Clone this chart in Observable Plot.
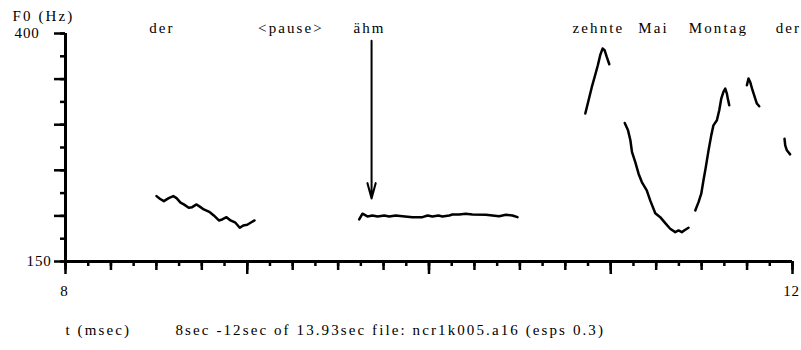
<!DOCTYPE html>
<html><head><meta charset="utf-8">
<script src="https://cdn.jsdelivr.net/npm/d3@7"></script>
<script src="https://cdn.jsdelivr.net/npm/@observablehq/plot@0.6"></script>
<style>
body{margin:0;background:#fff}
svg text { font-family: "Liberation Serif", serif; font-size: 15px; letter-spacing: 2.1px; }
svg g[aria-label="x-axis tick label"] text, svg g[aria-label="y-axis tick label"] text { letter-spacing: 0.8px; }
</style>
</head><body><div id="chart"></div>
<script>
// F0 contour segments: [time (s), F0 (Hz)]
const contour1 = [[8.501,221.7],[8.519,218.8],[8.541,216.2],[8.568,219.5],[8.593,221.7],[8.611,219.5],[8.633,214.5],[8.651,212.6],[8.678,209.0],[8.697,209.6],[8.721,212.6],[8.743,209.6],[8.761,207.1],[8.794,204.1],[8.816,200.5],[8.844,195.0],[8.862,196.1],[8.886,198.6],[8.908,195.0],[8.935,192.5],[8.959,187.0],[8.978,189.5],[9.000,190.3],[9.018,192.5],[9.040,195.0]];
const contour2 = [[9.616,196.1],[9.634,202.4],[9.661,199.4],[9.689,200.5],[9.717,199.4],[9.754,200.5],[9.781,199.4],[9.817,200.5],[9.854,199.7],[9.909,198.6],[9.964,198.6],[9.992,200.5],[10.019,199.4],[10.052,200.5],[10.074,199.4],[10.111,200.5],[10.129,201.6],[10.166,201.6],[10.202,202.4],[10.239,201.6],[10.313,201.3],[10.349,200.5],[10.386,199.7],[10.423,201.3],[10.459,200.5],[10.487,198.6]];
const contour3 = [[10.860,312.2],[10.878,326.8],[10.896,341.4],[10.914,354.2],[10.929,365.2],[10.942,376.2],[10.955,383.5],[10.966,381.7],[10.978,374.3],[10.992,366.3]];
const contour4 = [[11.077,301.9],[11.095,293.8],[11.108,282.9],[11.117,270.0],[11.135,259.0],[11.153,246.3],[11.171,237.1],[11.198,228.0],[11.217,217.0],[11.245,203.0],[11.272,198.6],[11.300,192.1],[11.327,185.9],[11.355,182.2],[11.373,184.0],[11.391,182.2],[11.410,184.8],[11.428,187.0]];
const contour5 = [[11.465,206.0],[11.483,215.1],[11.498,224.3],[11.510,238.9],[11.523,253.5],[11.538,271.9],[11.553,288.3],[11.565,299.3],[11.584,304.8],[11.597,315.8],[11.608,328.6],[11.620,335.9],[11.630,339.6],[11.639,334.1],[11.644,328.6],[11.652,321.3]];
const contour6 = [[11.749,343.2],[11.758,350.6],[11.767,346.9],[11.780,337.8],[11.795,328.6],[11.804,323.2],[11.817,320.2]];
const contour7 = [[11.956,284.7],[11.960,277.4],[11.969,271.9],[11.987,267.5]];

// word labels
const words = ["der", "<pause>", "ähm", "zehnte", "Mai", "Montag", "der"];
const wordTimes = [8.525, 9.235, 9.667, 10.927, 11.230, 11.587, 11.972];

// arrow marking "ähm"
const arrowTime = 9.684;
const arrowFromHz = 392;
const arrowToHz = 219;

// axes
const xLabelTicks = [8, 12];
const yLabelTicks = [150, 400];
const xMajorTicks = [8, 9, 10, 11, 12];
const xMidTicks = d3.range(8, 12.001, 0.25);
const xMinorTicks = d3.range(8, 12.001, 0.125);
const yMajorTicks = d3.range(150, 400.1, 50);
const yMinorTicks = d3.range(150, 400.1, 25);

const yLabel = "F0 (Hz)";
const xLabel = "t (msec)";
const fileInfo = "8sec -12sec of 13.93sec file: ncr1k005.a16 (esps 0.3)";

const contours = [contour1, contour2, contour3, contour4, contour5, contour6, contour7];
const rows = contours.flatMap((c, i) => c.map(([t, f]) => ({seg: i, t, f})));
const wordRows = words.map((w, i) => ({w, t: wordTimes[i]}));
const noText = () => "";
const font = "Liberation Serif";

const chart = Plot.plot({
  width: 801, height: 350,
  marginLeft: 65, marginRight: 9, marginTop: 33, marginBottom: 89,
  x: {domain: [8, 12], axis: null},
  y: {domain: [150, 400], axis: null},
  style: {fontFamily: font, fontSize: "15px", color: "black", background: "white"},
  marks: [
    Plot.axisX(xMinorTicks, {tickSize: 5, strokeWidth: 2.5, tickFormat: noText, label: null}),
    Plot.axisX(xMidTicks, {tickSize: 9, strokeWidth: 2.5, tickFormat: noText, label: null}),
    Plot.axisX(xMajorTicks, {tickSize: 13, strokeWidth: 2.5, tickFormat: noText, label: null}),
    Plot.axisX(xLabelTicks, {tickSize: 0, tickPadding: 24, tickFormat: d => String(d), label: null, fontFamily: font, dx: -1}),
    Plot.axisY(yMinorTicks, {tickSize: 5, strokeWidth: 2.5, tickFormat: noText, label: null}),
    Plot.axisY(yMajorTicks, {tickSize: 11, strokeWidth: 2.5, tickFormat: noText, label: null}),
    Plot.axisY([yLabelTicks[1]], {tickSize: 0, tickPadding: 26, tickFormat: d => String(d), label: null, fontFamily: font}),
    Plot.axisY([yLabelTicks[0]], {tickSize: 0, tickPadding: 14, tickFormat: d => String(d), label: null, fontFamily: font}),
    Plot.ruleY([150], {strokeWidth: 3}),
    Plot.ruleX([8], {strokeWidth: 3}),
    Plot.line(rows, {x: "t", y: "f", z: "seg", stroke: "black", strokeWidth: 2.5}),
    Plot.arrow([{t: arrowTime, a: arrowFromHz, b: arrowToHz}], {x1: "t", x2: "t", y1: "a", y2: "b", strokeWidth: 2, headLength: 12, headAngle: 30}),
    Plot.text(wordRows, {x: "t", text: "w", frameAnchor: "top", lineAnchor: "middle", dy: -5, dx: 1, fontFamily: font}),
    Plot.text([yLabel], {frameAnchor: "top-left", lineAnchor: "middle", textAnchor: "start", dx: -53, dy: -17, fontFamily: font}),
    Plot.text([xLabel], {frameAnchor: "bottom-left", lineAnchor: "middle", textAnchor: "start", dy: 69, fontFamily: font}),
    Plot.text([fileInfo], {frameAnchor: "bottom-left", lineAnchor: "middle", textAnchor: "start", dx: 110, dy: 69, fontFamily: font})
  ]
});
document.getElementById("chart").appendChild(chart);
</script>
</body></html>
